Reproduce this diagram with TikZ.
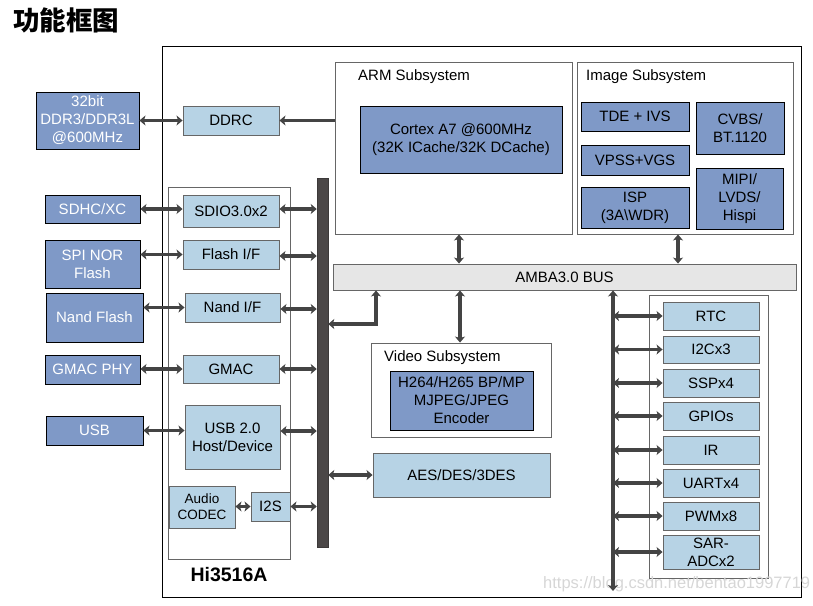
\documentclass[tikz,border=0pt]{standalone}
\usepackage{fontspec}
\setmainfont{Liberation Sans}
\newfontfamily\cjk{Noto Sans CJK SC}
\usetikzlibrary{arrows.meta}
\definecolor{dkb}{HTML}{7F99C7}
\definecolor{ltb}{HTML}{B7D3E5}
\definecolor{busg}{HTML}{E6E6E6}
\definecolor{barg}{HTML}{4B4747}
\definecolor{arrg}{HTML}{444444}
\definecolor{bdg}{HTML}{666666}
\begin{document}
\begin{tikzpicture}[x=1pt,y=-1pt,
  wh/.style 2 args={minimum width=#1, minimum height=#2},
  base/.style={align=center, inner sep=0pt, font=\fontsize{15}{18}\selectfont},
  dkbox/.style={base, draw=black, line width=0.9pt, fill=dkb, text=white},
  ltbox/.style={base, draw=bdg, line width=0.9pt, fill=ltb, text=black},
  grpbox/.style={draw=bdg, line width=0.9pt, inner sep=0pt},
  lbl/.style={anchor=west, inner sep=0pt, font=\fontsize{15}{18}\selectfont},
  tipS/.tip={Stealth[length=6pt,width=10pt,inset=1.5pt]},
  arr/.style={draw=arrg, line width=3.3pt, tipS-tipS},
  arr1/.style={draw=arrg, line width=3.3pt, -tipS}]
\useasboundingbox (0,0) rectangle (813,605);

% title
\node[anchor=west, inner sep=0pt, font=\cjk\bfseries\fontsize{26.5}{27}\selectfont] (title) at (13,20) {功能框图};

% outer chip box and groups
\node[draw=black, line width=0.9pt, inner sep=0pt, wh={639}{551}] (chip) at (481.5,321.5) {};
\node[grpbox, wh={122}{372}] (lgrp) at (229,373) {};
\node[grpbox, wh={237}{172}] (arm) at (453.5,148) {};
\node[grpbox, wh={216}{172}] (img) at (685,148) {};
\node[grpbox, wh={180}{94}] (vid) at (461,390) {};
\node[grpbox, wh={119}{283}] (pgrp) at (708.5,436.5) {};

\node[lbl] (armlbl) at (358,77) {ARM Subsystem};
\node[lbl] (imglbl) at (586,77) {Image Subsystem};
\node[lbl] (vidlbl) at (384,357.5) {Video Subsystem};
\node[inner sep=0pt, font=\bfseries\fontsize{19.5}{20}\selectfont] (chiplbl) at (229,575) {Hi3516A};

% external boxes
\node[dkbox, wh={103}{57}] (ddr) at (87.5,120.5) {32bit\\DDR3/DDR3L\\@600MHz};
\node[dkbox, wh={95}{28}] (sdhc) at (92.5,209) {SDHC/XC};
\node[dkbox, wh={95}{48}] (spi) at (92.5,264) {SPI NOR\\Flash};
\node[dkbox, wh={97}{49}] (nand) at (94.5,317.5) {Nand Flash};
\node[dkbox, wh={95}{29}] (gphy) at (92.5,369.5) {GMAC PHY};
\node[dkbox, wh={97}{29}] (usb) at (94.5,430.5) {USB};

% left interface boxes
\node[ltbox, wh={96}{29}] (ddrc) at (231,120.5) {DDRC};
\node[ltbox, wh={96}{32}] (sdio) at (231,211) {SDIO3.0x2};
\node[ltbox, wh={96}{29}] (flash) at (231,254.5) {Flash I/F};
\node[ltbox, wh={95}{29}] (nandif) at (232.5,307.5) {Nand I/F};
\node[ltbox, wh={96}{28}] (gmac) at (231,369) {GMAC};
\node[ltbox, wh={95}{64}] (usb2) at (232.5,437) {USB 2.0\\Host/Device};
\node[ltbox, wh={66}{42}, font=\fontsize{13.5}{16}\selectfont] (codec) at (202,507) {Audio\\CODEC};
\node[ltbox, wh={39}{29}] (i2s) at (270.5,506.5) {I2S};

% vertical bar
\node[fill=barg, draw=barg!80!black, line width=0.5pt, inner sep=0pt, wh={11}{369}] (bar) at (322.5,362.5) {};

% ARM / image subsystem content
\node[dkbox, text=black, wh={202}{67}] (cortex) at (461,139.5) {Cortex A7 @600MHz\\(32K ICache/32K DCache)};
\node[dkbox, text=black, wh={108}{29}] (tde) at (635,116.5) {TDE + IVS};
\node[dkbox, text=black, wh={108}{30}] (vpss) at (635,160) {VPSS+VGS};
\node[dkbox, text=black, wh={108}{41}] (isp) at (635,207.5) {ISP\\(3A\textbackslash WDR)};
\node[dkbox, text=black, wh={88}{52}] (cvbs) at (740,128) {CVBS/\\BT.1120};
\node[dkbox, text=black, wh={87}{61}] (mipi) at (739.5,198.5) {MIPI/\\LVDS/\\Hispi};

% bus
\node[base, draw=bdg, line width=0.9pt, fill=busg, wh={463}{26}] (bus) at (564.5,277) {AMBA3.0 BUS};

% video / crypto
\node[dkbox, text=black, wh={143}{59}] (enc) at (461.5,400.5) {H264/H265 BP/MP\\MJPEG/JPEG\\Encoder};
\node[ltbox, wh={177}{44}] (aes) at (461.5,475) {AES/DES/3DES};

% peripherals
\node[ltbox, wh={96}{28}] (rtc) at (711,316) {RTC};
\node[ltbox, wh={96}{27}] (i2c) at (711,349.5) {I2Cx3};
\node[ltbox, wh={96}{28}] (ssp) at (711,383) {SSPx4};
\node[ltbox, wh={96}{28}] (gpio) at (711,416) {GPIOs};
\node[ltbox, wh={96}{28}] (ir) at (711,450) {IR};
\node[ltbox, wh={96}{28}] (uart) at (711,483) {UARTx4};
\node[ltbox, wh={96}{28}] (pwm) at (711,516) {PWMx8};
\node[ltbox, wh={96}{34}] (sar) at (711,552) {SAR-\\ADCx2};

% watermark
\node[anchor=west, inner sep=0pt, text=black!16, font=\fontsize{16.5}{17}\selectfont] (wm) at (543,584) {https://blog.csdn.net/bentao1997719};

% connectors: external <-> interfaces
\draw[arr] (ddr.east) -- (ddrc.west);
\draw[arr] (sdhc.east) -- (sdio.west |- sdhc.east);
\draw[arr] (spi.east |- flash.west) -- (flash.west);
\draw[arr] (nand.east |- nandif.west) -- (nandif.west);
\draw[arr] (gphy.east |- gmac.west) -- (gmac.west);
\draw[arr] (usb.east) -- (usb2.west |- usb.east);
\draw[arr1] (arm.west |- ddrc.east) -- (ddrc.east);

% interfaces <-> bar
\draw[arr] (sdio.east |- 0,209) -- (bar.west |- 0,209);
\draw[arr] (flash.east |- 0,256) -- (bar.west |- 0,256);
\draw[arr] (nandif.east |- 0,309) -- (bar.west |- 0,309);
\draw[arr] (gmac.east) -- (bar.west |- gmac.east);
\draw[arr] (usb2.east |- 0,431) -- (bar.west |- 0,431);
\draw[arr] (i2s.east) -- (bar.west |- i2s.east);
\draw[arr] (codec.east |- i2s.west) -- (i2s.west);

% bar <-> bus, AES
\coordinate (bk) at (376,324);
\draw[arr] (bus.south -| bk) -- (bk) -- (bk -| bar.east);
\draw[arr] (bar.east |- aes.west) -- (aes.west);

% subsystems <-> bus
\draw[arr] (arm.south -| 459,0) -- (bus.north -| 459,0);
\draw[arr] (img.south -| 678,0) -- (bus.north -| 678,0);
\draw[arr] (bus.south -| 460,0) -- (vid.north -| 460,0);

% peripheral bus
\coordinate (pend) at (613,591);
\draw[arr] (bus.south -| pend) -- (pend);
\foreach \p in {rtc,i2c,ssp,gpio,ir,uart,pwm,sar}
  \draw[arr] (pend |- \p.west) -- (\p.west);
\end{tikzpicture}
\end{document}
